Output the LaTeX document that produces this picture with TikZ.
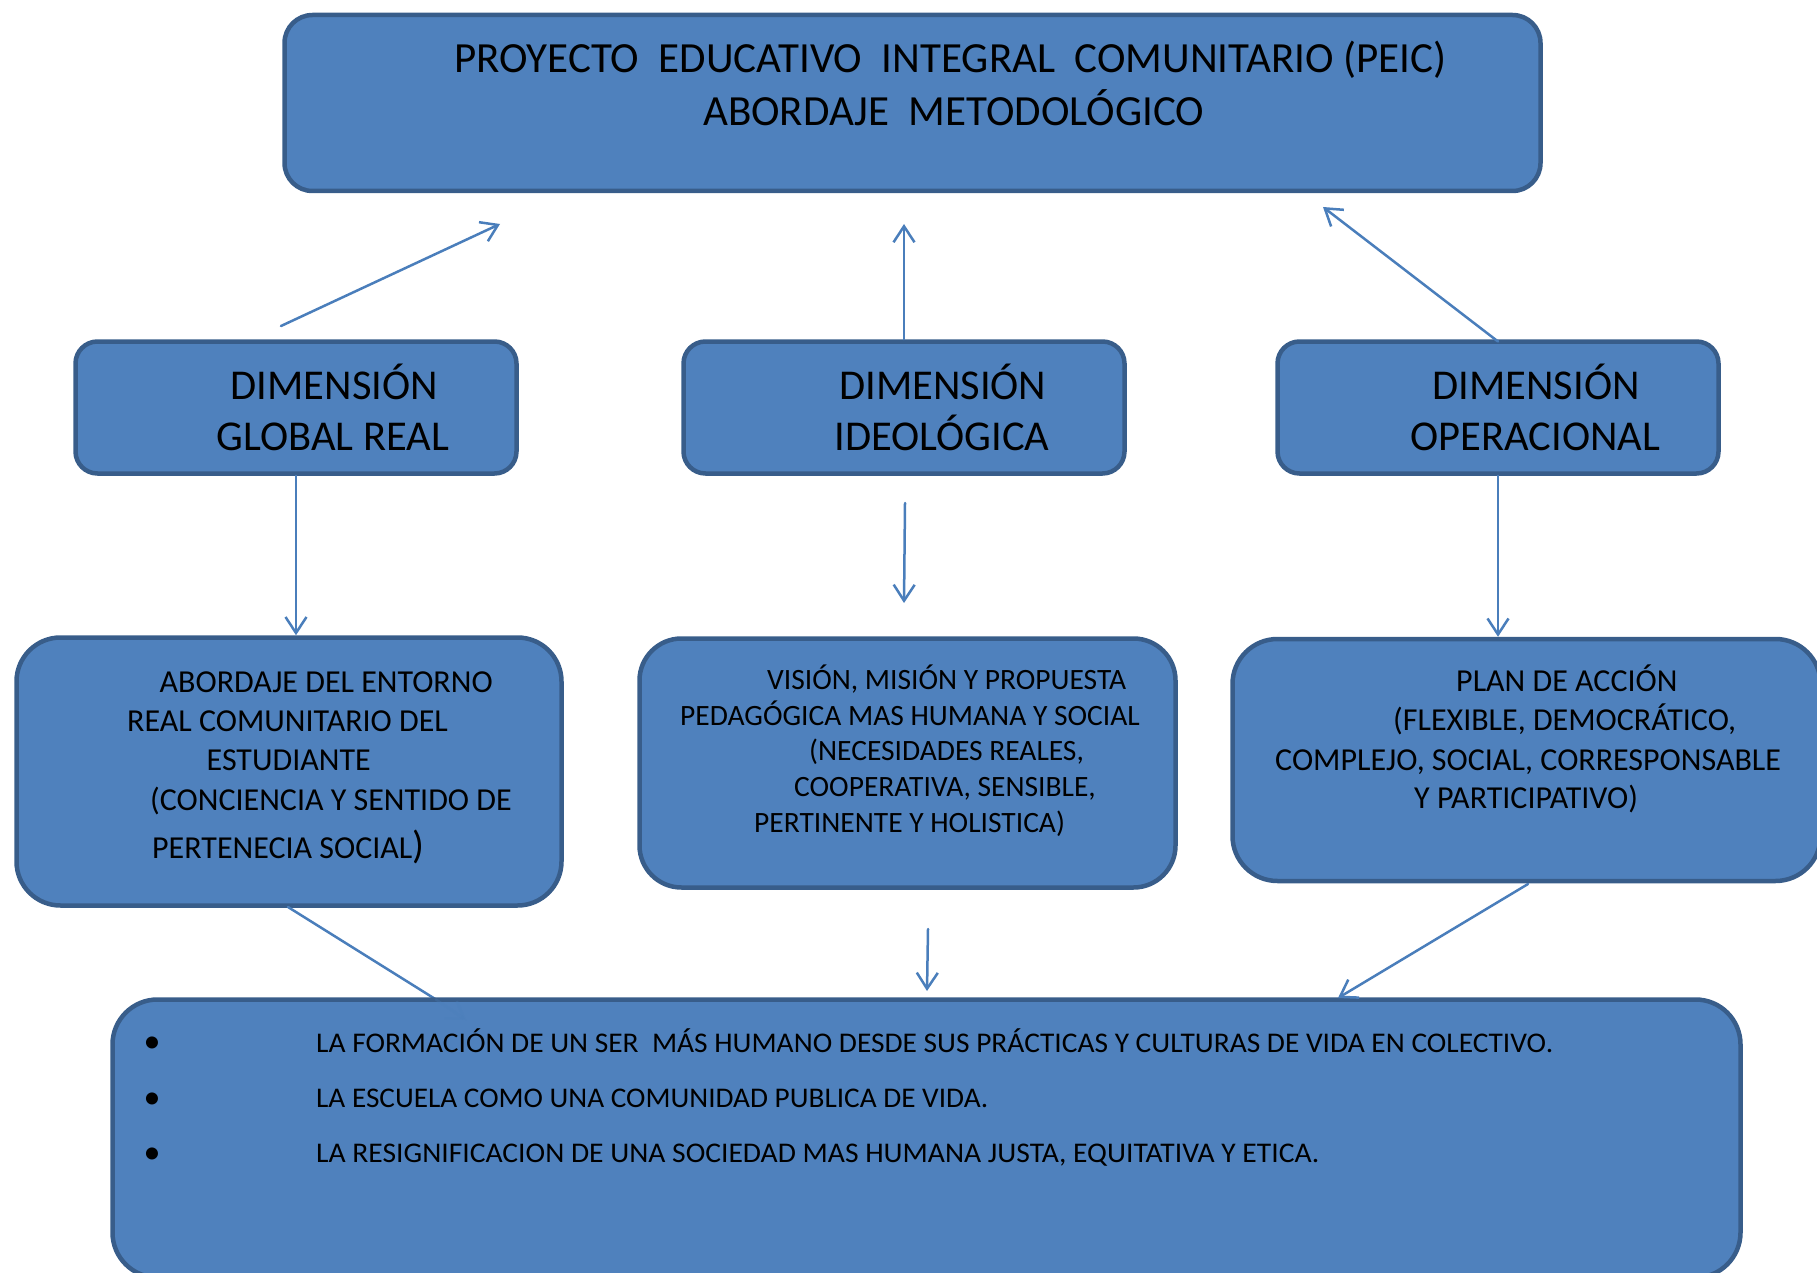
\documentclass[tikz,border=0pt]{standalone}
\usepackage{fontspec}
\usepackage{graphicx}
\setmainfont{Carlito}
\usetikzlibrary{arrows.meta}
\definecolor{boxfill}{HTML}{4F81BD}
\definecolor{boxline}{HTML}{385D8A}
\definecolor{arrowc}{HTML}{4A7EBB}
\begin{document}
\begin{tikzpicture}[x=1pt,y=-1pt,
  box/.style={draw=boxline, fill=boxfill, line width=4.5pt, inner sep=0pt, rectangle},
  conn/.style={draw=arrowc, line width=2.5pt, line cap=round, -{Straight Barb[length=16pt,width=21pt]}},
  plain/.style={draw=arrowc, line width=2.5pt, line cap=round},
  txt/.style={anchor=base west, inner sep=0pt, text=black},
  ttl/.style={txt, font=\fontsize{43}{50}\selectfont},
  dimt/.style={txt, font=\fontsize{42.5}{49}\selectfont},
  bodyt/.style={txt, font=\fontsize{32}{38}\selectfont},
  midt/.style={txt, font=\fontsize{29.5}{36}\selectfont},
  bott/.style={txt, font=\fontsize{28.5}{31}\selectfont},
  bullt/.style={anchor=base, inner sep=0pt, text=black, font=\fontsize{34}{34}\selectfont},
]
\useasboundingbox (0,0) rectangle (1817,1273);
\clip (0,0) rectangle (1817,1273);

% ---------- boxes ----------
\node[box, rounded corners=28pt, minimum width=1256pt, minimum height=176pt] (top) at (912.5,103) {};
\node[box, rounded corners=22pt, minimum width=441pt, minimum height=132pt] (dimL) at (296,407.5) {};
\node[box, rounded corners=22pt, minimum width=441pt, minimum height=132pt] (dimM) at (904,407.5) {};
\node[box, rounded corners=22pt, minimum width=441pt, minimum height=132pt] (dimR) at (1498,407.5) {};
\node[box, rounded corners=44pt, minimum width=545pt, minimum height=268pt] (boxL) at (289,771.5) {};
\node[box, rounded corners=42pt, minimum width=536pt, minimum height=249pt] (boxM) at (907.5,763) {};
\node[box, rounded corners=45pt, minimum width=588pt, minimum height=242pt] (boxR) at (1526.5,760) {};

% ---------- free ends ----------
\coordinate (e1) at (500,224);
\coordinate (e2) at (904,224);
\coordinate (e3) at (1323,207);
\coordinate (s1) at (281,326);
\coordinate (s5) at (905,503);
\coordinate (e5) at (904,603);
\coordinate (s7) at (288,907);
\coordinate (m7) at (436,999.5);
\coordinate (e7) at (466,1020);
\coordinate (s8) at (928,929);
\coordinate (e8) at (927,991);
\coordinate (s9) at (1528,884);
\coordinate (e9) at (1338,998);

% ---------- connectors ----------
\draw[conn] (s1) -- (e1);
\draw[conn] (dimM.north) -- (e2);
\draw[conn] (1498,341.5) -- (e3);
\draw[conn] (dimL.south) -- (dimL.south |- boxL.north);
\draw[conn] (s5) -- (e5);
\draw[conn] (dimR.south) -- (dimR.south |- boxR.north);
\draw[plain] (s7) -- (m7);
\draw[conn] (s8) -- (e8);

\node[box, rounded corners=45pt, minimum width=1628pt, minimum height=278pt] (bottom) at (926.5,1138.5) {};
\draw[conn] (s9) -- (e9);
\draw[conn, opacity=0.25] (m7) -- (e7);

% ---------- texts ----------
\node[ttl] (t1) at (454,73) {PROYECTO~ EDUCATIVO~ INTEGRAL~ COMUNITARIO (PEIC)};
\node[ttl] (t2) at (703,125.5) {ABORDAJE~ METODOLÓGICO};

\node[dimt] (dl1) at (230.6,399) {DIMENSIÓN};
\node[dimt] (dl2) at (216.5,450) {GLOBAL REAL};
\node[dimt] (dm1) at (839,399) {DIMENSIÓN};
\node[dimt] (dm2) at (834.3,450) {IDEOLÓGICA};
\node[dimt] (dr1) at (1432.3,399) {DIMENSIÓN};
\node[dimt] (dr2) at (1410.3,450) {OPERACIONAL};

\node[bodyt] (l1) at (159.5,692.7) {ABORDAJE DEL ENTORNO};
\node[bodyt] (l2) at (127,731.7) {REAL COMUNITARIO DEL};
\node[bodyt] (l3) at (206.5,770.7) {ESTUDIANTE};
\node[bodyt] (l4) at (150,810) {(CONCIENCIA Y SENTIDO DE};
\node[bodyt] (l5) at (152,858.3) {PERTENECIA SOCIAL{\fontsize{39}{40}\selectfont)}};

\node[midt] (m1) at (767,689) {VISIÓN, MISIÓN Y PROPUESTA};
\node[midt] (m2) at (680,725) {PEDAGÓGICA MAS HUMANA Y SOCIAL};
\node[midt] (m3) at (809,760) {(NECESIDADES REALES,};
\node[midt] (m4) at (794,796.7) {COOPERATIVA, SENSIBLE,};
\node[midt] (m5) at (754,832) {PERTINENTE Y HOLISTICA)};

\node[bodyt] (r1) at (1456,691.7) {PLAN DE ACCIÓN};
\node[bodyt] (r2) at (1393,730) {(FLEXIBLE, DEMOCRÁTICO,};
\node[bodyt] (r3) at (1275,770) {COMPLEJO, SOCIAL, CORRESPONSABLE};
\node[bodyt] (r4) at (1414,808) {Y PARTICIPATIVO)};

\node[bullt] (b1) at (152,1052.5) {•};
\node[bullt] (b2) at (152,1108) {•};
\node[bullt] (b3) at (152,1163) {•};
\node[bott] (p1) at (316,1052) {\resizebox{1237pt}{\height}{LA FORMACIÓN DE UN SER~ MÁS HUMANO DESDE SUS PRÁCTICAS Y CULTURAS DE VIDA EN COLECTIVO.}};
\node[bott] (p2) at (316,1107.5) {\resizebox{672pt}{\height}{LA ESCUELA COMO UNA COMUNIDAD PUBLICA DE VIDA.}};
\node[bott] (p3) at (316,1162.5) {\resizebox{1003pt}{\height}{LA RESIGNIFICACION DE UNA SOCIEDAD MAS HUMANA JUSTA, EQUITATIVA Y ETICA.}};
\end{tikzpicture}
\end{document}
